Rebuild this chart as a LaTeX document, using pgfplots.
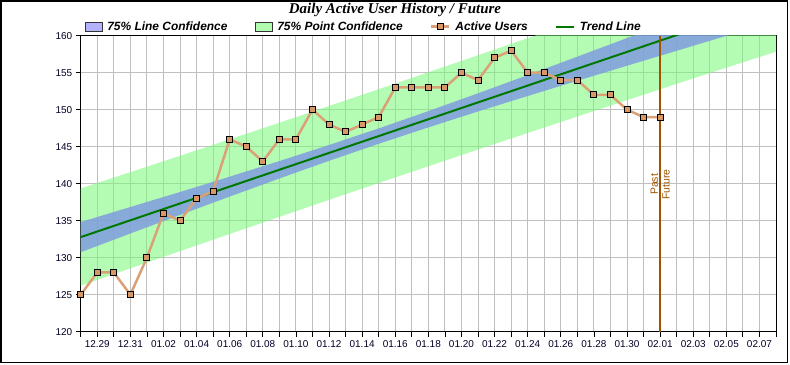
\documentclass[border=0pt]{standalone}
\usepackage{pgfplots}
\pgfplotsset{compat=1.18}
\usepackage{fontspec}
\setmainfont{Liberation Sans}
\newfontfamily\titlefont{Liberation Serif}
\definecolor{greenband}{RGB}{120,250,120}
\definecolor{blueband}{RGB}{126,150,227}
\definecolor{lavender}{RGB}{178,178,255}
\definecolor{greenleg}{RGB}{178,252,178}
\definecolor{userline}{RGB}{218,160,118}
\definecolor{usermark}{RGB}{214,152,102}
\definecolor{trendgreen}{RGB}{0,120,0}
\definecolor{pastline}{RGB}{160,82,0}
\begin{document}
\begin{tikzpicture}
\useasboundingbox (0bp,0bp) rectangle (790bp,365bp);
\fill[white] (0bp,0bp) rectangle (790bp,365bp);
\draw[black, line width=1.6bp] (0.8bp,2.6bp) rectangle (787.6bp,364.2bp);
\node[font=\titlefont\bfseries\itshape\fontsize{15}{18}\selectfont, inner sep=0pt] at (395bp,355bp) {Daily Active User History / Future};
\begin{axis}[
  at={(80.7bp,33.3bp)}, anchor=south west,
  width=695.3bp, height=296bp, scale only axis,
  xmin=0, xmax=42, ymin=120, ymax=160,
  xtick={1,3,...,41},
  xticklabels={12.29,12.31,01.02,01.04,01.06,01.08,01.10,01.12,01.14,01.16,01.18,01.20,01.22,01.24,01.26,01.28,01.30,02.01,02.03,02.05,02.07},
  minor xtick={0,2,...,42},
  ytick={120,125,...,160},
  xmajorgrids, xminorgrids, ymajorgrids,
  grid style={color=black!25, line width=1bp},
  minor grid style={color=black!25, line width=1bp},
  tick align=outside,
  xtick pos=left, ytick pos=left,
  major tick length=5bp, minor tick length=5bp,
  tick style={black, line width=0.8bp},
  axis line style={black, line width=1bp},
  ticklabel style={font=\fontsize{10}{12}\selectfont, text=black!85!blue},
  /pgf/number format/assume math mode=true,
  legend columns=4,
  legend style={at={(axis description cs:0,1)}, anchor=west, xshift=3.6bp, yshift=9bp,
    draw=none, fill=none, inner sep=0pt,
    font=\bfseries\itshape\fontsize{12}{14}\selectfont,
    nodes={inner sep=0pt},
    /tikz/every odd column/.append style={column sep=5bp},
    /tikz/every even column/.append style={column sep=27bp}},
  legend cell align=left,
]
% legend entries
\addlegendimage{legend image code/.code={\draw[fill=lavender, draw=black!80, line width=0.8bp] (0bp,-4.5bp) rectangle (17bp,4.5bp);}}
\addlegendentry{75\% Line Confidence}
\addlegendimage{legend image code/.code={\draw[fill=greenleg, draw=black!80, line width=0.8bp] (0bp,-4.5bp) rectangle (17bp,4.5bp);}}
\addlegendentry{75\% Point Confidence}
\addlegendimage{legend image code/.code={\draw[color=userline, line width=2.5bp, mark repeat=2, mark phase=2, mark=square*, mark size=3bp, mark options={fill=usermark, draw=black, line width=0.9bp}] plot coordinates {(0bp,0bp) (9bp,0bp) (18bp,0bp)};}}
\addlegendentry{Active Users}
\addlegendimage{legend image code/.code={\draw[color=trendgreen, line width=2bp] (0bp,0bp) -- (18bp,0bp);}}
\addlegendentry{Trend Line}

% 75% point confidence band
\addplot[forget plot, draw=none, fill=greenband, fill opacity=0.55] coordinates {
(0,139.36)(3,141.56)(6,143.77)(9,146.00)(12,148.24)(15,150.50)(18,152.77)(21,155.06)(24,157.36)(27,159.67)(30,162.00)(33,164.33)(36,166.69)(39,169.06)(42,171.44)
(42,157.84)(39,155.68)(36,153.49)(33,151.29)(30,149.08)(27,146.85)(24,144.62)(21,142.36)(18,140.09)(15,137.82)(12,135.52)(9,133.21)(6,130.89)(3,128.56)(0,126.21)
} -- cycle;
% 75% line confidence band
\addplot[forget plot, draw=none, fill=blueband, fill opacity=0.8] coordinates {
(0,134.82)(3,136.85)(6,138.88)(9,140.95)(12,143.06)(15,145.23)(18,147.47)(21,149.81)(24,152.22)(27,154.67)(30,157.17)(33,159.68)(36,162.22)(39,164.76)(42,167.31)
(42,161.97)(39,159.98)(36,157.96)(33,155.94)(30,153.91)(27,151.85)(24,149.76)(21,147.61)(18,145.39)(15,143.09)(12,140.70)(9,138.26)(6,135.78)(3,133.27)(0,130.74)
} -- cycle;
% trend line
\addplot[forget plot, trendgreen, line width=2bp] coordinates {(0,132.78) (42,164.64)};
% past / future divider
\addplot[forget plot, pastline, line width=2bp] coordinates {(35,120) (35,160)};
\node[rotate=90, anchor=south, text=pastline, font=\fontsize{10.5}{12}\selectfont, inner sep=2bp] at (axis cs:35,139.9) {Past};
\node[rotate=90, anchor=north, text=pastline, font=\fontsize{10.5}{12}\selectfont, inner sep=2bp] at (axis cs:35,139.9) {Future};
% active users
\addplot[forget plot, color=userline, line width=2.5bp, mark=square*, mark size=3bp, mark options={fill=usermark, draw=black, line width=0.9bp}] coordinates {
(0,125)(1,128)(2,128)(3,125)(4,130)(5,136)(6,135)(7,138)(8,139)(9,146)
(10,145)(11,143)(12,146)(13,146)(14,150)(15,148)(16,147)(17,148)(18,149)(19,153)
(20,153)(21,153)(22,153)(23,155)(24,154)(25,157)(26,158)(27,155)(28,155)(29,154)
(30,154)(31,152)(32,152)(33,150)(34,149)(35,149)
};
\end{axis}
\end{tikzpicture}
\end{document}
